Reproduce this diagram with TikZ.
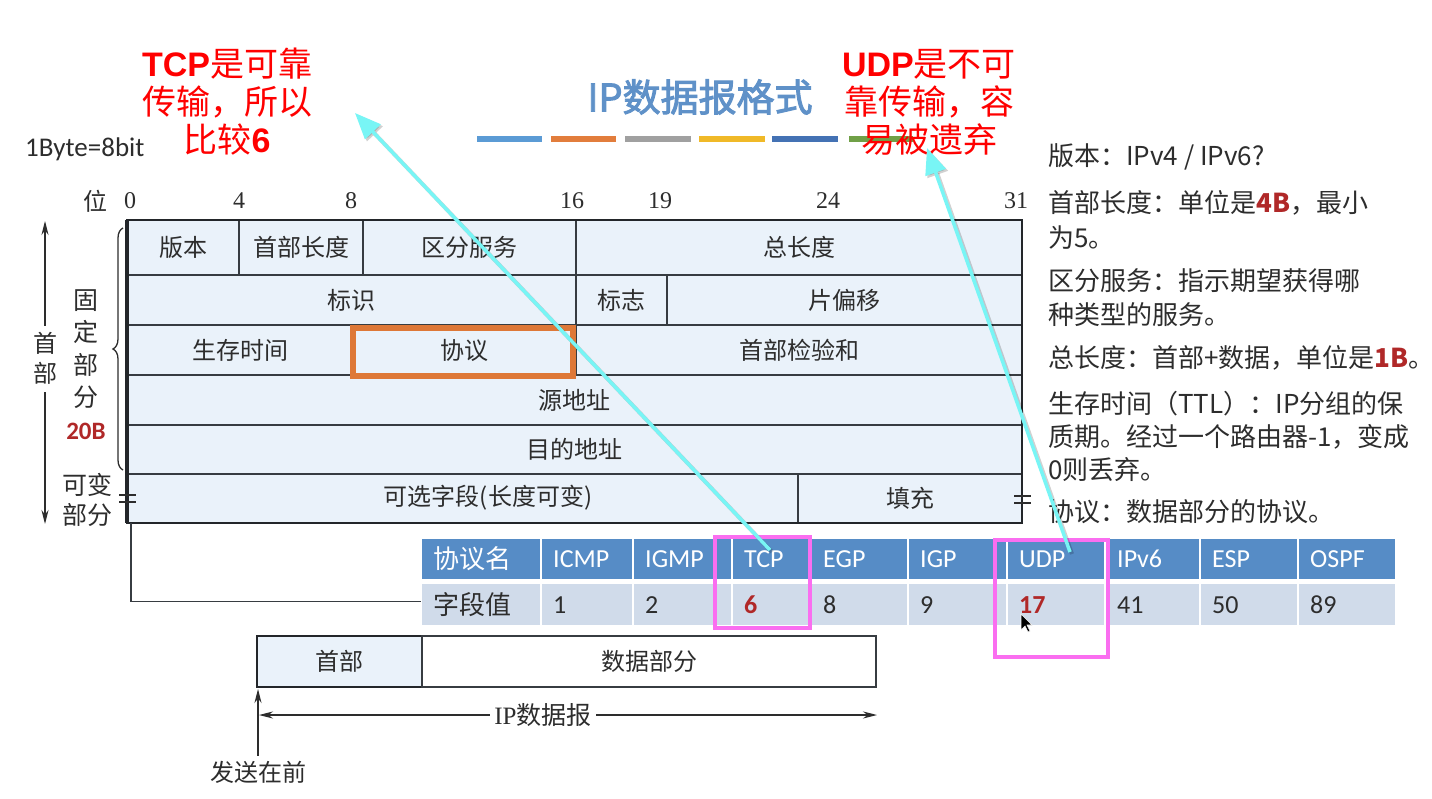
\documentclass[tikz,border=0pt]{standalone}
\usepackage{fontspec}
\setmainfont{Liberation Serif}
\newfontfamily\cjk{Noto Sans CJK SC}
\newfontfamily\cjkb[FakeBold=2.5]{Noto Sans CJK SC}
\newfontfamily\carl{Carlito}
\newfontfamily\lsans{Liberation Sans}
\usetikzlibrary{arrows.meta,decorations.pathreplacing,calc}
\newcommand\myfs[2]{\fontsize{#1}{#2}\selectfont}
\definecolor{cellf}{RGB}{234,242,250}
\definecolor{linec}{RGB}{55,60,65}
\definecolor{darkc}{RGB}{35,38,42}
\definecolor{txtc}{RGB}{45,45,45}
\definecolor{orangec}{RGB}{222,120,55}
\definecolor{pinkc}{RGB}{250,110,240}
\definecolor{cyanc}{RGB}{120,245,245}
\definecolor{tblue}{RGB}{86,140,198}
\definecolor{tval}{RGB}{208,219,234}
\definecolor{titlec}{RGB}{95,145,200}
\definecolor{dred}{RGB}{176,40,40}
\definecolor{barA}{RGB}{91,155,213}
\definecolor{barB}{RGB}{226,125,60}
\definecolor{barC}{RGB}{160,160,160}
\definecolor{barD}{RGB}{240,185,40}
\definecolor{barE}{RGB}{68,114,180}
\definecolor{barF}{RGB}{112,160,71}
\newcommand\rectnode[7][]{%
  \pgfmathsetmacro\mycw{#5-#3}%
  \pgfmathsetmacro\mych{#6-#4}%
  \node[#1,minimum width=\mycw pt,minimum height=\mych pt] (#2) at ({(#3+#5)/2},{(#4+#6)/2}) {#7};}
\tikzset{
  cell/.style={draw=linec, line width=1.2pt, fill=cellf, inner sep=0pt, outer sep=0pt, text=txtc, font=\cjk\myfs{24}{28}},
  celltext/.style={text=txtc, font=\cjk\myfs{24}{28}, inner sep=0pt},
  bitnum/.style={text=txtc, font=\myfs{24}{28}, inner sep=0pt},
  phead/.style={fill=tblue, draw=white, line width=2pt, inner sep=0pt, outer sep=0pt},
  pval/.style={fill=tval, draw=white, line width=2pt, inner sep=0pt, outer sep=0pt},
  ptxt/.style={anchor=west, inner sep=0pt, text=txtc, font=\carl\myfs{26}{30}},
  pinkbox/.style={draw=pinkc, line width=3.5pt, inner sep=0pt, outer sep=0pt},
  notec/.style={align=center, text=red, font=\cjk\myfs{34}{38}, inner sep=0pt},
  side/.style={anchor=west, inner sep=0pt, text=txtc, font=\cjk\myfs{26}{30}},
  cyanarrow/.style={draw=cyanc, line width=3.5pt, -{Triangle[length=26pt,width=21pt]}},
  cyanshadow/.style={draw=black, opacity=0.18, line width=4pt, -{Triangle[length=26pt,width=21pt]}},
  darr/.style={draw=txtc, line width=1.2pt},
  bar/.style={line width=6pt}
}
\begin{document}
\begin{tikzpicture}[x=1pt,y=-1pt]
\useasboundingbox[fill=white] (0,0) rectangle (1432,799);

% title and colour bars
\node[font=\cjkb\myfs{38}{44}, text=titlec, inner sep=0pt] (title) at (700,97) {IP数据报格式};
\draw[bar,barA] (477,139) -- (542,139);
\draw[bar,barB] (551,139) -- (616,139);
\draw[bar,barC] (625,139) -- (691,139);
\draw[bar,barD] (699,139) -- (765,139);
\draw[bar,barE] (772,139) -- (838,139);
\draw[bar,barF] (849,139) -- (913,139);

% red notes
\node[notec] (tcpnote) at (227,102) {{\lsans\bfseries TCP}是可靠\\传输，所以\\比较{\lsans\bfseries 6}};
\node[notec] (udpnote) at (929,102) {{\lsans\bfseries UDP}是不可\\靠传输，容\\易被遗弃};

\node[anchor=west, inner sep=0pt, font=\carl\myfs{27}{30}, text=txtc] (byte) at (25,149) {1Byte=8bit};

% bit numbers
\node[celltext] (wei) at (95,201) {位};
\node[bitnum] (b0) at (130,201) {0};
\node[bitnum] (b4) at (239,201) {4};
\node[bitnum] (b8) at (351,201) {8};
\node[bitnum] (b16) at (572,201) {16};
\node[bitnum] (b19) at (660,201) {19};
\node[bitnum] (b24) at (828,201) {24};
\node[bitnum] (b31) at (1016,201) {31};

% header cells
\rectnode[cell]{ver}{127}{220}{239}{275}{版本}
\rectnode[cell]{hlen}{239}{220}{363}{275}{首部长度}
\rectnode[cell]{tos}{363}{220}{576}{275}{区分服务}
\rectnode[cell]{tlen}{576}{220}{1022}{275}{总长度}
\rectnode[cell]{ident}{127}{275}{576}{325}{标识}
\rectnode[cell]{flag}{576}{275}{667}{325}{标志}
\rectnode[cell]{frag}{667}{275}{1022}{325}{片偏移}
\rectnode[cell]{ttl}{127}{325}{353}{375}{生存时间}
\rectnode[cell]{proto}{353}{325}{576}{375}{协议}
\rectnode[cell]{cksum}{576}{325}{1022}{375}{首部检验和}
\rectnode[cell]{src}{127}{375}{1022}{425}{源地址}
\rectnode[cell]{dst}{127}{425}{1022}{474}{目的地址}
\rectnode[cell]{opt}{127}{474}{798}{523}{}
\rectnode[cell]{pad}{798}{474}{1022}{523}{填充}
\node[celltext] (optt) at (488,498) {可选字段(长度可变)};
\draw[darkc, line width=2.5pt] (ver.north west) -- (tlen.north east) -- (pad.south east) -- (opt.south west) -- cycle;
\draw[darkc, line width=4pt] (ver.north west) -- (opt.south west);
\rectnode[draw=orangec, line width=6pt, inner sep=0pt, outer sep=0pt]{protobox}{353}{328}{573}{376}{}

% break marks
\draw[draw=txtc, line width=1.2pt] (119,495) -- (136,495) (119,502) -- (136,502);
\draw[draw=txtc, line width=1.2pt] (1014,496) -- (1031,496) (1014,503) -- (1031,503);

% brace and left labels
\draw[txtc, line width=1.3pt, decorate, decoration={brace, amplitude=10pt}] (123,470) -- (123,228);
\node[align=center, text=txtc, font=\cjk\myfs{25}{32.5}, inner sep=0pt] (gd) at (86,349) {固\\定\\部\\分};
\node[text=dred, font=\carl\bfseries\myfs{25}{30}, inner sep=0pt] (b20) at (86,431) {20B};
\node[align=center, text=txtc, font=\cjk\myfs{25}{30}, inner sep=0pt] (kb) at (87,500) {可变\\部分};
\node[celltext] (shou) at (45,343) {首};
\node[celltext] (bu) at (45,373) {部};
\coordinate (hTop) at (45,221);
\coordinate (hBot) at (45,524);
\draw[darr, -{Stealth[length=14pt,width=7pt]}] ([yshift=6pt]shou.north) -- (hTop);
\draw[darr, -{Stealth[length=14pt,width=7pt]}] ([yshift=-8pt]bu.south) -- (hBot);

% protocol table
\foreach \nm/\xa/\xb/\ha/\va in {pn/421/541/{\cjk 协议名}/{\cjk 字段值},
  icmp/541/633/ICMP/1, igmp/633/732/IGMP/2,
  tcp/732/811/TCP/{\color{dred}\bfseries 6},
  egp/811/908/EGP/8, igp/908/1007/IGP/9,
  udp/1007/1105/UDP/{\color{dred}\bfseries 17},
  ipv/1105/1200/IPv6/41, esp/1200/1298/ESP/50, ospf/1298/1396/OSPF/89}{
  \pgfmathsetmacro\mycw{\xb-\xa}
  \node[phead, minimum width=\mycw pt, minimum height=42pt] (h\nm) at ({(\xa+\xb)/2},559) {};
  \node[pval, minimum width=\mycw pt, minimum height=43pt] (v\nm) at ({(\xa+\xb)/2},604.5) {};
  \node[ptxt, text=white] (ht\nm) at (\xa+12,559) {\ha};
  \node[ptxt] (vt\nm) at (\xa+12,605) {\va};
}
\coordinate (lnk) at (131,523);
\draw[draw=linec, line width=1.2pt] (lnk) |- ([yshift=3pt]vpn.west);

\rectnode[pinkbox]{tcpbox}{715}{537}{810}{628}{}
\rectnode[pinkbox]{udpbox}{995}{540}{1108}{657}{}

% cursor
\draw[fill=black, draw=white, line width=0.6pt] (1021,614) -- (1021,630) -- (1025,626) -- (1028,632) -- (1030,631) -- (1027,625) -- (1032,625) -- cycle;

% bottom datagram
\rectnode[draw=darkc, line width=2.5pt, fill=cellf, inner sep=0pt, outer sep=0pt, text=txtc, font=\cjk\myfs{24}{28}]{bhdr}{257}{636}{422}{687}{首部}
\rectnode[draw=linec, line width=1.2pt, fill=white, inner sep=0pt, outer sep=0pt, text=txtc, font=\cjk\myfs{24}{28}]{bdata}{422}{636}{876}{687}{数据部分}
\coordinate (ipL) at (259,715);
\coordinate (ipR) at (877,715);
\draw[darr, {Stealth[length=14pt,width=7pt]}-{Stealth[length=14pt,width=7pt]}] (ipL) -- (ipR);
\node[fill=white, text=txtc, font=\myfs{25}{28}, inner sep=4pt] (iplab) at (543,715) {IP{\cjk 数据报}};
\node[celltext] (send) at (258,772) {发送在前};
\draw[darr, -{Stealth[length=14pt,width=7pt]}] ([yshift=5pt]send.north) -- ([xshift=1pt,yshift=-2pt]bhdr.south west);

% right panel
\node[side] (r1) at (1048,157) {版本：IPv4 / IPv6?};
\node[side] (r2) at (1048,203) {首部长度：单位是{\color{dred}\bfseries 4B}，最小};
\node[side] (r3) at (1048,238) {为5。};
\node[side] (r4) at (1048,281) {区分服务：指示期望获得哪};
\node[side] (r5) at (1048,315) {种类型的服务。};
\node[side] (r6) at (1048,358) {总长度：首部+数据，单位是{\color{dred}\bfseries 1B}。};
\node[side] (r7) at (1048,404) {生存时间（TTL）：IP分组的保};
\node[side] (r8) at (1048,437) {质期。经过一个路由器-1，变成};
\node[side] (r9) at (1048,470) {0则丢弃。};
\node[side] (r10) at (1048,512) {协议：数据部分的协议。};

% cyan arrows
\coordinate (tcpA) at (770,550);
\coordinate (tcpT) at (355,113);
\coordinate (udpA) at (1070,552);
\coordinate (udpT) at (927,148);
\draw[cyanshadow] ([shift={(2,2)}]tcpA) -- ([shift={(2,2)}]tcpT);
\draw[cyanshadow] ([shift={(2,2)}]udpA) -- ([shift={(2,2)}]udpT);
\draw[cyanarrow] (tcpA) -- (tcpT);
\draw[cyanarrow] (udpA) -- (udpT);
\end{tikzpicture}
\end{document}
